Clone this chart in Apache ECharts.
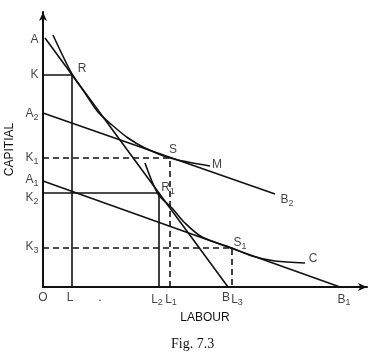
<!DOCTYPE html>
<html>
<head>
<meta charset="utf-8">
<script src="https://cdn.jsdelivr.net/npm/echarts@6/dist/echarts.min.js"></script>
<style>
  html, body { margin: 0; padding: 0; background: #fff; }
  #chart { width: 384px; height: 353px; }
</style>
</head>
<body>
<div id="chart"></div>
<script>
// axis marks (name, position)
var yMarks = [['A', 247], ['K', 212], ['A2', 173], ['K1', 129], ['A1', 107], ['K2', 89], ['K3', 40]];
var xMarks = [['O', 0], ['L', 27], ['.', 57], ['L2', 114], ['L1', 128], ['B', 183], ['L3', 194], ['B1', 301]];

// iso-cost lines
var lineAB = [[2, 249], [185, 0]];
var lineA2B2 = [[0, 174], [232, 93]];
var lineA1B1 = [[0, 106], [297, 0]];

// isoquants
var isoM = [[10, 252], [29, 213], [42, 194], [55, 175], [69, 162], [85, 149], [102, 139], [127, 129], [167, 121]];
var isoC = [[102, 124], [115, 93], [129, 79], [142, 64], [159, 50], [189, 39], [209, 31], [232, 26], [262, 24]];

// guide lines
var guideK = [[0, 212], [29, 212], [29, 0]];
var guideK2 = [[0, 94], [116, 94], [116, 0]];
var guideK1 = [[0, 129], [127, 129], [127, 0]];
var guideK3 = [[0, 39], [189, 39], [189, 0]];

// point names (label centre)
var pointNames = [['R', 39, 218], ['S', 130, 137], ['M', 174, 122], ['R1', 125, 99],
                  ['S1', 197, 44], ['C', 270, 28], ['B2', 244, 87], ['Y', 0, 278], ['X', 333, 0]];

var ink = '#111';
var fontSans = 'Liberation Sans, Arial, sans-serif';

function subFmt(s) {
    return s.replace(/(\d)$/, '{s|$1}');
}
var rich = {
    s: { fontSize: 9, fontFamily: fontSans, color: ink, padding: [7, 0, 0, 0] }
};

function guide(data, dashed) {
    return {
        type: 'line', data: data, symbol: 'none', silent: true,
        lineStyle: { color: ink, width: 1.6, type: dashed ? [6, 4] : 'solid' }
    };
}
function straight(data) {
    return {
        type: 'line', data: data, symbol: 'none', silent: true,
        lineStyle: { color: ink, width: 1.6 }
    };
}
function curve(data) {
    return {
        type: 'line', data: data, symbol: 'none', smooth: 0.3, silent: true,
        lineStyle: { color: ink, width: 1.6 }
    };
}

var dom = document.getElementById('chart');
var myChart = echarts.init(dom);
var option = {
    animation: false,
    backgroundColor: '#fff',
    title: {
        text: 'Fig. 7.3',
        left: 166, top: 332,
        textStyle: { fontFamily: 'Liberation Serif, Times New Roman, serif', fontSize: 14, fontWeight: 'normal', color: ink }
    },
    grid: { left: 43, top: 12, width: 324, height: 275, outerBoundsMode: 'none' },
    xAxis: {
        type: 'value', min: 0, max: 324,
        name: 'LABOUR', nameLocation: 'middle', nameGap: 25,
        nameTextStyle: { fontFamily: fontSans, fontSize: 12, color: ink },
        axisLine: { show: true, symbol: ['none', 'arrow'], symbolSize: [6, 9], lineStyle: { color: ink, width: 2 } },
        axisTick: { show: false }, axisLabel: { show: false }, splitLine: { show: false }
    },
    yAxis: {
        type: 'value', min: 0, max: 275,
        name: 'CAPITIAL', nameLocation: 'middle', nameGap: 27, nameRotate: 90,
        nameTextStyle: { fontFamily: fontSans, fontSize: 12, color: ink },
        axisLine: { show: true, symbol: ['none', 'arrow'], symbolSize: [6, 9], lineStyle: { color: ink, width: 2 } },
        axisTick: { show: false }, axisLabel: { show: false }, splitLine: { show: false }
    },
    series: [
        straight(lineAB),
        straight(lineA2B2),
        straight(lineA1B1),
        curve(isoM),
        curve(isoC),
        guide(guideK, false),
        guide(guideK2, false),
        guide(guideK1, true),
        guide(guideK3, true),
        {
            type: 'scatter', silent: true, symbolSize: 1, itemStyle: { color: 'rgba(0,0,0,0)' },
            data: yMarks.map(function (m) { return [0, m[1], m[0]]; }),
            label: {
                show: true, position: 'left', distance: 4, color: ink, fontFamily: fontSans, fontSize: 12,
                formatter: function (p) { return subFmt(p.data[2]); }, rich: rich
            }
        },
        {
            type: 'scatter', silent: true, symbolSize: 1, itemStyle: { color: 'rgba(0,0,0,0)' },
            data: xMarks.map(function (m) { return [m[1], 0, m[0]]; }),
            label: {
                show: true, position: 'bottom', distance: 4, color: ink, fontFamily: fontSans, fontSize: 12,
                formatter: function (p) { return subFmt(p.data[2]); }, rich: rich
            }
        },
        {
            type: 'scatter', silent: true, symbolSize: 1, itemStyle: { color: 'rgba(0,0,0,0)' },
            data: pointNames.map(function (m) { return [m[1], m[2], m[0]]; }),
            label: {
                show: true, position: 'inside', color: ink, fontFamily: fontSans, fontSize: 12,
                formatter: function (p) { return subFmt(p.data[2]); }, rich: rich
            }
        }
    ]
};
if (option && typeof option === "object") {
    myChart.setOption(option, true);
}
</script>
</body>
</html>
